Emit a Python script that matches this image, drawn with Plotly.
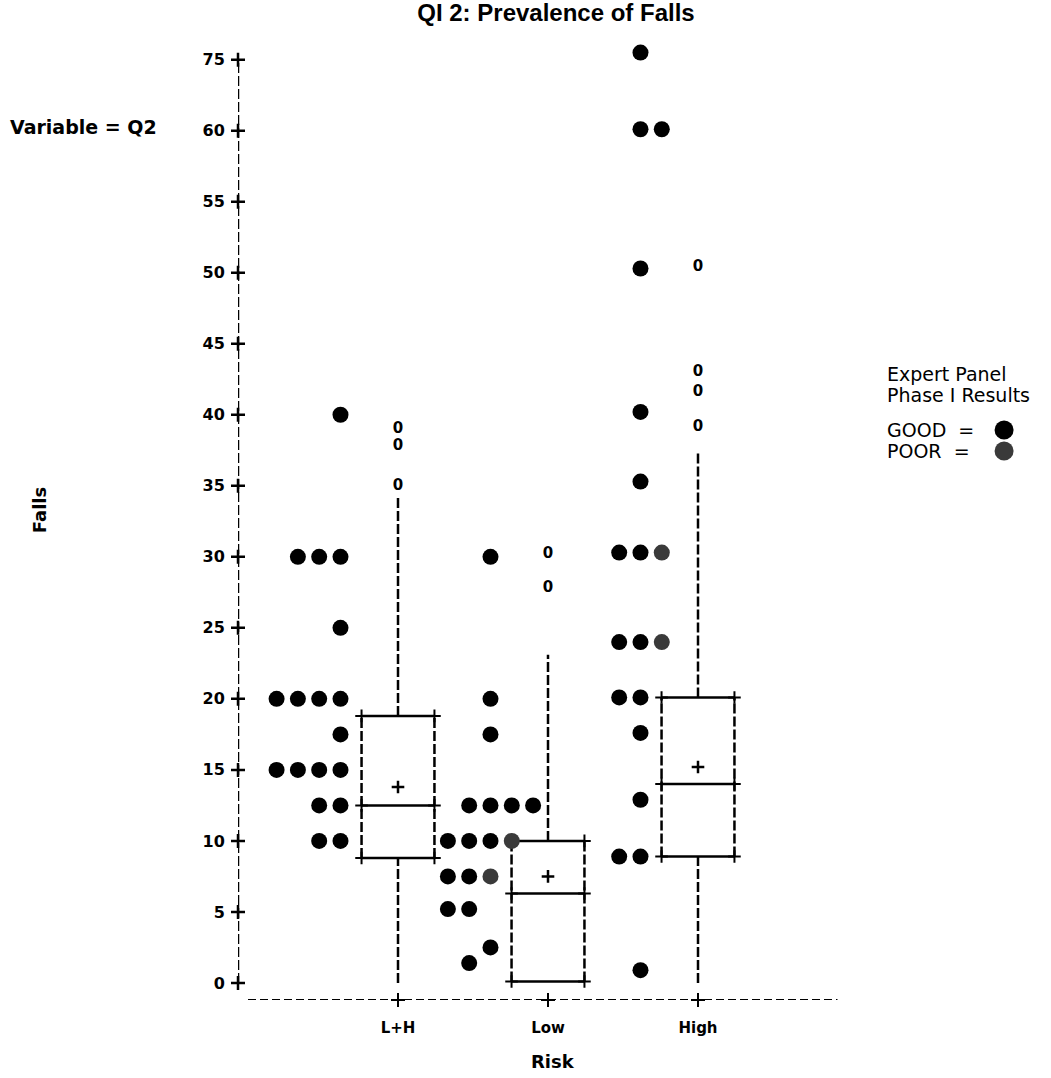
import plotly.graph_objects as go

# ---------------- data ----------------
CATEGORIES = ["L+H", "Low", "High"]
CAT_POS = [1, 2, 3]

# box statistics (Falls) per risk category
Q1 = [8.8, 0.1, 8.9]
MEDIAN = [12.5, 6.3, 14.0]
Q3 = [18.8, 10.0, 20.1]
MEAN = [13.8, 7.5, 15.2]
WHISKER_LO = [0.0, 0.1, 0.0]
WHISKER_HI = [34.2, 23.1, 37.3]

# outliers, drawn as "0"
OUTLIERS_LH = [39.0, 37.8, 35.0]
OUTLIERS_LOW = [30.2, 27.8]
OUTLIERS_HIGH = [50.4, 43.0, 41.6, 39.1]

# expert panel phase I results: value, rating, stacking column (counted leftward from the box)
LH_VALUES = [40, 30, 30, 30, 25, 20, 20, 20, 20, 17.5, 15, 15, 15, 15, 12.5, 12.5, 10, 10]
LH_RATING = ["GOOD"] * 18
LH_COLUMN = [2, 2, 3, 4, 2, 2, 3, 4, 5, 2, 2, 3, 4, 5, 2, 3, 2, 3]

LOW_VALUES = [30, 20, 17.5, 12.5, 12.5, 12.5, 12.5, 10, 10, 10, 10, 7.5, 7.5, 7.5, 5.2, 5.2, 2.5, 1.4]
LOW_RATING = ["GOOD", "GOOD", "GOOD", "GOOD", "GOOD", "GOOD", "GOOD",
              "GOOD", "GOOD", "GOOD", "POOR", "GOOD", "GOOD", "POOR",
              "GOOD", "GOOD", "GOOD", "GOOD"]
LOW_COLUMN = [2, 2, 2, 3, 2, 1, 0, 4, 3, 2, 1, 4, 3, 2, 4, 3, 2, 3]

HIGH_VALUES = [76.5, 60.3, 60.3, 50.3, 40.2, 35.3, 30.3, 30.3, 30.3, 24, 24, 24,
               20.1, 20.1, 17.6, 12.9, 8.9, 8.9, 0.9]
HIGH_RATING = ["GOOD", "GOOD", "GOOD", "GOOD", "GOOD", "GOOD", "GOOD", "GOOD", "POOR",
               "GOOD", "GOOD", "POOR", "GOOD", "GOOD", "GOOD", "GOOD", "GOOD", "GOOD", "GOOD"]
HIGH_COLUMN = [2, 2, 1, 2, 2, 2, 3, 2, 1, 3, 2, 1, 3, 2, 2, 2, 3, 2, 2]

Y_TICKS = [0, 5, 10, 15, 20, 25, 30, 35, 40, 45, 50, 55, 60, 75]

# ---------------- layout constants ----------------
AXIS_X = -0.0667
X_MAX = 4.2
Y_MIN = -1.2
Y_MAX = 67.3
BOX_HALF = 0.243
COL_STEP = 0.142
COL_SHIFT = 0.7
BASE_END = 3.93
FONT = "DejaVu Sans"
GOOD_COLOR = "#000000"
POOR_COLOR = "#3a3a3a"
BRACKET_DASH = "10px,3px"


def y_plot(v):
    # axis is broken above 60 (next label is 75)
    return v if v <= 60 else 60 + (v - 60) / 3.0


fig = go.Figure()

# y-axis drawn as column of "]" with "+" at each tick
fig.add_trace(go.Scatter(x=[AXIS_X, AXIS_X], y=[y_plot(Y_TICKS[0]), y_plot(Y_TICKS[-1])],
                         mode="lines", line=dict(color="black", width=2.5, dash=BRACKET_DASH),
                         hoverinfo="skip", showlegend=False, cliponaxis=False))
fig.add_trace(go.Scatter(x=[AXIS_X] * len(Y_TICKS), y=[y_plot(t) for t in Y_TICKS],
                         mode="markers",
                         marker=dict(symbol="cross-thin", size=10, line=dict(color="black", width=2.5)),
                         hoverinfo="skip", showlegend=False, cliponaxis=False))

# category axis "+" marks on dashed baseline
fig.add_trace(go.Scatter(x=CAT_POS, y=[Y_MIN] * len(CAT_POS), mode="markers",
                         marker=dict(symbol="cross-thin", size=10, line=dict(color="black", width=2)),
                         hoverinfo="skip", showlegend=False, cliponaxis=False))

# boxes
for i, c in enumerate(CAT_POS):
    xl, xr = c - BOX_HALF, c + BOX_HALF
    for xs in (xl, xr):
        fig.add_trace(go.Scatter(x=[xs, xs], y=[Q1[i], Q3[i]], mode="lines",
                                 line=dict(color="black", width=2.5, dash=BRACKET_DASH),
                                 hoverinfo="skip", showlegend=False))
    if WHISKER_HI[i] > Q3[i]:
        fig.add_trace(go.Scatter(x=[c, c], y=[Q3[i], WHISKER_HI[i]], mode="lines",
                                 line=dict(color="black", width=2.5, dash=BRACKET_DASH),
                                 hoverinfo="skip", showlegend=False))
    if WHISKER_LO[i] < Q1[i]:
        fig.add_trace(go.Scatter(x=[c, c], y=[WHISKER_LO[i], Q1[i]], mode="lines",
                                 line=dict(color="black", width=2.5, dash=BRACKET_DASH),
                                 hoverinfo="skip", showlegend=False))
    for yv in (Q1[i], MEDIAN[i], Q3[i]):
        fig.add_trace(go.Scatter(x=[xl, xr], y=[yv, yv], mode="lines+markers",
                                 line=dict(color="black", width=2.5),
                                 marker=dict(symbol="cross-thin", size=9, line=dict(color="black", width=2)),
                                 hoverinfo="skip", showlegend=False))
    fig.add_trace(go.Scatter(x=[c], y=[MEAN[i]], mode="markers",
                             marker=dict(symbol="cross-thin", size=9, line=dict(color="black", width=2.5)),
                             hoverinfo="skip", showlegend=False))

# outliers
for c, outs in zip(CAT_POS, [OUTLIERS_LH, OUTLIERS_LOW, OUTLIERS_HIGH]):
    fig.add_trace(go.Scatter(x=[c] * len(outs), y=[y_plot(v) for v in outs], mode="text",
                             text=["0"] * len(outs),
                             textfont=dict(family=FONT, size=15, color="black", weight="bold"),
                             hoverinfo="skip", showlegend=False))

# expert panel dots
for c, vals, rat, col in zip(CAT_POS,
                             [LH_VALUES, LOW_VALUES, HIGH_VALUES],
                             [LH_RATING, LOW_RATING, HIGH_RATING],
                             [LH_COLUMN, LOW_COLUMN, HIGH_COLUMN]):
    for rating, color in (("GOOD", GOOD_COLOR), ("POOR", POOR_COLOR)):
        xs = [c - (k + COL_SHIFT) * COL_STEP for v, r, k in zip(vals, rat, col) if r == rating]
        ys = [y_plot(v) for v, r, k in zip(vals, rat, col) if r == rating]
        if xs:
            fig.add_trace(go.Scatter(x=xs, y=ys, mode="markers", name=rating,
                                     marker=dict(size=16, color=color, line=dict(width=0)),
                                     showlegend=False, cliponaxis=False))

# dashed baseline
fig.add_shape(type="line", xref="x", yref="y", x0=0, x1=BASE_END, y0=Y_MIN, y1=Y_MIN,
              line=dict(color="black", width=2, dash="8px,4px"))

bold = dict(family=FONT, color="black", weight="bold")
annotations = [
    dict(text="Falls", xref="paper", yref="paper", x=-0.309, y=0.5036, showarrow=False,
         xanchor="center", yanchor="middle", textangle=-90, font=dict(size=18, **bold)),
    dict(text="Variable = Q2", xref="paper", yref="paper", x=-0.359, y=0.897, xanchor="left",
         yanchor="middle", showarrow=False, font=dict(size=19, **bold)),
    dict(text="Risk", xref="x", yref="paper", x=2.03, y=-0.0637, xanchor="center", yanchor="middle",
         showarrow=False, font=dict(size=18, **bold)),
]
legend_lines = ["Expert Panel", "Phase I Results", "GOOD  =", "POOR  ="]
legend_px = [374, 395, 430, 451]
legend_y = [1 - (p - 27) / 973.0 for p in legend_px]
for t, yv in zip(legend_lines, legend_y):
    annotations.append(dict(text=t, xref="paper", yref="paper", x=1.011, y=yv, xanchor="left",
                            yanchor="middle", showarrow=False,
                            font=dict(family=FONT, size=19, color="black")))
for yv, color in zip(legend_y[2:], [GOOD_COLOR, POOR_COLOR]):
    fig.add_shape(type="circle", xref="paper", yref="paper", xsizemode="pixel", ysizemode="pixel",
                  xanchor=1.197, yanchor=yv, x0=-9.5, x1=9.5, y0=-9.5, y1=9.5,
                  fillcolor=color, line=dict(width=0))

fig.update_layout(
    width=1051, height=1078,
    margin=dict(l=238, r=173, t=27, b=78),
    paper_bgcolor="white", plot_bgcolor="white",
    title=dict(text="QI 2: Prevalence of Falls", x=556 / 1051, y=1 - 13 / 1078, xanchor="center",
               yanchor="middle", xref="container", yref="container",
               font=dict(family="Liberation Sans", size=24, color="black", weight="bold")),
    xaxis=dict(range=[AXIS_X, X_MAX], tickvals=CAT_POS, ticktext=CATEGORIES,
               showgrid=False, zeroline=False, showline=False,
               ticks="outside", ticklen=14, tickcolor="rgba(0,0,0,0)",
               tickfont=dict(size=15, **bold)),
    yaxis=dict(range=[Y_MIN, Y_MAX], tickvals=[y_plot(t) for t in Y_TICKS],
               ticktext=[str(t) for t in Y_TICKS],
               showgrid=False, zeroline=False, showline=False,
               ticks="outside", ticklen=9, tickcolor="rgba(0,0,0,0)",
               tickfont=dict(size=16, **bold)),
    annotations=annotations,
    showlegend=False,
)

fig.write_html("out.html", config={"displayModeBar": False},
               post_script="document.body.style.margin='0';")
